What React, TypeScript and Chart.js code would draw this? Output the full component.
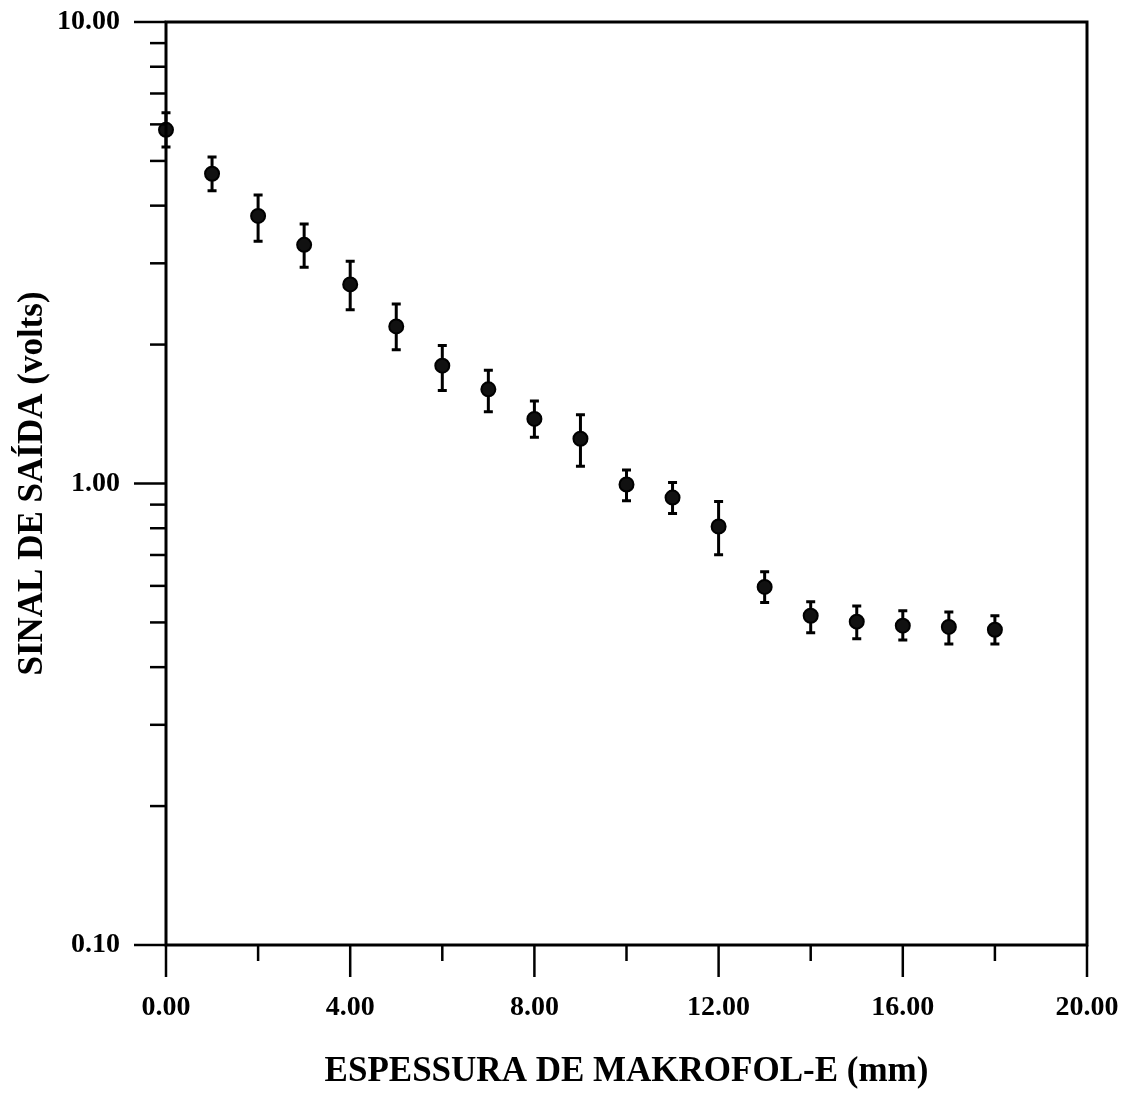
import React, { useEffect, useRef } from 'react';
import { Chart, registerables } from 'chart.js';

Chart.register(...registerables);

// Data
const thicknessMm = [0, 1, 2, 3, 4, 5, 6, 7, 8, 9, 10, 11, 12, 13, 14, 15, 16, 17, 18];
const signalVolts = [5.84, 4.69, 3.8, 3.29, 2.7, 2.19, 1.8, 1.6, 1.38, 1.25, 0.995, 0.932, 0.807, 0.597, 0.517, 0.502, 0.492, 0.489, 0.482];
const signalHigh = [6.36, 5.1, 4.22, 3.65, 3.03, 2.45, 1.99, 1.76, 1.51, 1.41, 1.07, 1.005, 0.914, 0.644, 0.554, 0.543, 0.53, 0.527, 0.517];
const signalLow = [5.36, 4.31, 3.35, 2.94, 2.38, 1.95, 1.59, 1.43, 1.26, 1.09, 0.918, 0.861, 0.701, 0.552, 0.475, 0.461, 0.458, 0.449, 0.449];

const xTickValues = [0, 2, 4, 6, 8, 10, 12, 14, 16, 18, 20];
const xMajorTicks = [0, 4, 8, 12, 16, 20];
const yTickValues = [0.1, 0.2, 0.3, 0.4, 0.5, 0.6, 0.7, 0.8, 0.9, 1, 2, 3, 4, 5, 6, 7, 8, 9, 10];
const yMajorTicks = [0.1, 1, 10];

const xAxisTitle = 'ESPESSURA DE MAKROFOL-E (mm)';
const yAxisTitle = 'SINAL DE SAÍDA (volts)';

const FONT = "'Liberation Serif', 'Times New Roman', serif";

const errorBarsPlugin = {
  id: 'errorBars',
  beforeDatasetsDraw(chart: any) {
    const { ctx, scales } = chart;
    const xs = scales.x;
    const ys = scales.y;
    ctx.save();
    ctx.strokeStyle = '#000';
    ctx.lineWidth = 3;
    ctx.lineCap = 'butt';
    for (let i = 0; i < thicknessMm.length; i++) {
      const px = xs.getPixelForValue(thicknessMm[i]);
      const top = ys.getPixelForValue(signalHigh[i]);
      const bot = ys.getPixelForValue(signalLow[i]);
      ctx.beginPath();
      ctx.moveTo(px, top);
      ctx.lineTo(px, bot);
      ctx.moveTo(px - 4.5, top);
      ctx.lineTo(px + 4.5, top);
      ctx.moveTo(px - 4.5, bot);
      ctx.lineTo(px + 4.5, bot);
      ctx.stroke();
    }
    ctx.restore();
  },
};

const frameTicksPlugin = {
  id: 'frameTicks',
  afterDraw(chart: any) {
    const { ctx, chartArea, scales } = chart;
    const { left, right, top, bottom } = chartArea;
    ctx.save();
    ctx.strokeStyle = '#000';
    ctx.lineCap = 'square';
    ctx.lineWidth = 3;
    ctx.strokeRect(left, top, right - left, bottom - top);
    ctx.lineWidth = 2.5;
    ctx.lineCap = 'butt';
    const xs = scales.x;
    xs.ticks.forEach((t: any) => {
      const px = xs.getPixelForValue(t.value);
      const len = xMajorTicks.includes(t.value) ? 32 : 16;
      ctx.beginPath();
      ctx.moveTo(px, bottom);
      ctx.lineTo(px, bottom + len);
      ctx.stroke();
    });
    const ys = scales.y;
    ys.ticks.forEach((t: any) => {
      const py = ys.getPixelForValue(t.value);
      const len = yMajorTicks.includes(t.value) ? 32 : 16;
      ctx.beginPath();
      ctx.moveTo(left, py);
      ctx.lineTo(left - len, py);
      ctx.stroke();
    });
    ctx.restore();
  },
};

const zeroPadding = (scale: any) => {
  scale.paddingTop = 0;
  scale.paddingBottom = 0;
  scale.paddingLeft = 0;
  scale.paddingRight = 0;
};

export default function App() {
  const canvasRef = useRef<HTMLCanvasElement | null>(null);

  useEffect(() => {
    const canvas = canvasRef.current;
    if (!canvas) return;
    const chart = new Chart(canvas, {
      type: 'scatter',
      data: {
        datasets: [
          {
            data: thicknessMm.map((x, i) => ({ x, y: signalVolts[i] })),
            pointRadius: 7,
            pointBorderWidth: 2,
            pointBackgroundColor: '#111',
            pointBorderColor: '#000',
            showLine: false,
            clip: false as any,
          },
        ],
      },
      options: {
        animation: false,
        responsive: false,
        events: [],
        layout: { padding: { top: 22, right: 42, left: 0, bottom: 0 } },
        plugins: {
          legend: { display: false },
          tooltip: { enabled: false },
        },
        scales: {
          x: {
            type: 'linear',
            min: 0,
            max: 20,
            afterBuildTicks: (scale: any) => {
              scale.ticks = xTickValues.map((v) => ({ value: v }));
            },
            afterFit: (scale: any) => {
              scale.height = 148;
              zeroPadding(scale);
            },
            grid: { display: false, drawTicks: false },
            border: { display: false },
            ticks: {
              autoSkip: false,
              maxRotation: 0,
              padding: 46,
              color: '#000',
              font: { family: FONT, size: 28, weight: 'bold' },
              callback: (v: any) => (xMajorTicks.includes(Number(v)) ? Number(v).toFixed(2) : ''),
            },
            title: {
              display: true,
              text: xAxisTitle,
              color: '#000',
              font: { family: FONT, size: 35, weight: 'bold' },
              padding: { top: 0, bottom: 0 },
            },
          },
          y: {
            type: 'logarithmic',
            min: 0.1,
            max: 10,
            afterBuildTicks: (scale: any) => {
              scale.ticks = yTickValues.map((v) => ({ value: v }));
            },
            afterFit: (scale: any) => {
              scale.width = 166;
              zeroPadding(scale);
            },
            grid: { display: false, drawTicks: false },
            border: { display: false },
            ticks: {
              autoSkip: false,
              padding: 46,
              color: '#000',
              font: { family: FONT, size: 28, weight: 'bold' },
              callback: (v: any) => (yMajorTicks.includes(Number(v)) ? Number(v).toFixed(2) : ''),
            },
            title: {
              display: true,
              text: yAxisTitle,
              color: '#000',
              font: { family: FONT, size: 35, weight: 'bold' },
              padding: { top: 12, bottom: 0 },
            },
          },
        },
      },
      plugins: [errorBarsPlugin, frameTicksPlugin],
    } as any);
    return () => chart.destroy();
  }, []);

  return (
    <div style={{ position: 'absolute', left: 0, top: 0, width: 1129, height: 1093, background: '#fff' }}>
      <canvas ref={canvasRef} width={1129} height={1093} style={{ display: 'block' }} />
    </div>
  );
}
